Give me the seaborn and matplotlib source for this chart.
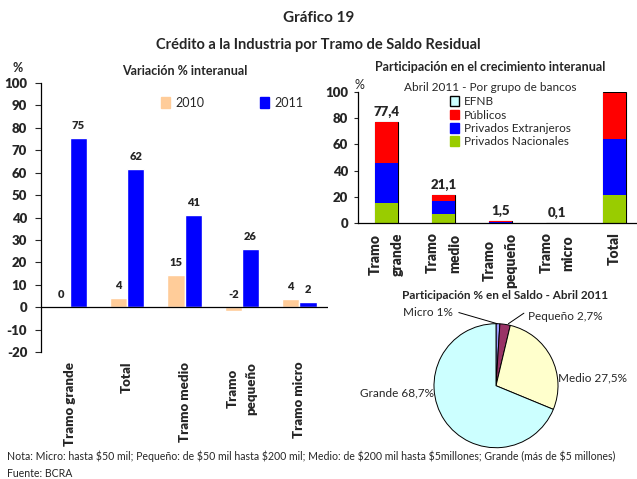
import numpy as np
import pandas as pd
import matplotlib
matplotlib.use('Agg')
import matplotlib.pyplot as plt
from matplotlib.patches import Patch
import seaborn as sns

# Variación % interanual
tramos = ['Tramo grande', 'Total', 'Tramo medio', 'Tramo\npequeño', 'Tramo micro']
var_2010 = [0.0, 4.2, 14.4, -1.5, 3.7]
var_2011 = [75.4, 61.6, 41.1, 26.0, 2.4]
etiq_2010 = ['0', '4', '15', '-2', '4']
etiq_2011 = ['75', '62', '41', '26', '2']

# Participación en el crecimiento interanual (por grupo de bancos)
tramos_part = ['Tramo\ngrande', 'Tramo\nmedio', 'Tramo\npequeño', 'Tramo\nmicro', 'Total']
priv_nacionales = [15.1, 6.9, 0.1, 0.0, 21.2]
priv_extranjeros = [30.4, 9.7, 0.7, 0.1, 43.0]
publicos = [31.9, 4.5, 0.7, 0.0, 35.3]
efnb = [0.0, 0.0, 0.0, 0.0, 0.5]
etiq_part = ['77,4', '21,1', '1,5', '0,1', '']

# Participación % en el saldo
pie_labels = ['Micro 1%', 'Pequeño 2,7%', 'Medio 27,5%', 'Grande 68,7%']
pie_values = [1.0, 2.7, 27.5, 68.7]

sns.set_style('white')
plt.rcParams['font.family'] = ['Lato', 'DejaVu Sans']
plt.rcParams['axes.unicode_minus'] = False

fig = plt.figure(figsize=(6.37, 4.79), dpi=100)

fig.text(0.5, 0.962, 'Gráfico 19', ha='center', va='center', fontsize=11, fontweight='bold')
fig.text(0.5, 0.906, 'Crédito a la Industria por Tramo de Saldo Residual', ha='center', va='center',
         fontsize=10.5, fontweight='bold')

# ---- left chart
ax1 = fig.add_axes([0.0644, 0.2651, 0.4505, 0.5616])
df = pd.DataFrame({
    'tramo': tramos * 2,
    'anio': ['2010'] * 5 + ['2011'] * 5,
    'valor': var_2010 + var_2011,
})
sns.barplot(data=df, x='tramo', y='valor', hue='anio', palette=['#FFCC99', '#0000FF'],
            width=0.6, gap=0, saturation=1, legend=False, ax=ax1)
ax1.set_ylim(-20, 100)
ax1.set_xlim(-0.5, 4.5)
ax1.set_yticks(range(-20, 101, 10))
ax1.axhline(0, color='black', lw=0.9)
for s in ['top', 'right', 'bottom']:
    ax1.spines[s].set_visible(False)
ax1.spines['left'].set_color('black')
ax1.spines['left'].set_linewidth(0.9)
ax1.tick_params(axis='y', direction='out', length=4, width=0.8, left=True, labelsize=9.5, pad=6)
ax1.tick_params(axis='x', length=0, labelsize=9.5, pad=7)
for lab in ax1.get_yticklabels():
    lab.set_fontweight('heavy')
ax1.set_xticks(range(5))
ax1.set_xticklabels(tramos, rotation=90, ha='center', va='top', fontweight='heavy', linespacing=1.6)
ax1.set_xlabel('')
ax1.set_ylabel('')
for cont, etqs in zip(ax1.containers, [etiq_2010, etiq_2011]):
    for bar, t in zip(cont, etqs):
        h = bar.get_height()
        ax1.text(bar.get_x() + bar.get_width() / 2, max(h, 0) + 5.5, t, ha='center', va='center',
                 fontsize=8, fontweight='heavy')
ax1.legend(handles=[Patch(color='#FFCC99', label='2010'), Patch(color='#0000FF', label='2011')],
           ncol=2, frameon=False, loc='center left', bbox_to_anchor=(0.38, 0.926),
           handlelength=0.7, handleheight=0.9, handletextpad=0.4, columnspacing=4.5, fontsize=9)
ax1.set_title('Variación % interanual', fontsize=9, fontweight='bold', pad=6)
fig.text(0.027, 0.858, '%', ha='center', va='center', fontsize=9, fontweight='bold')

# ---- right top chart (stacked via cumulative totals)
ax2 = fig.add_axes([0.562, 0.535, 0.438, 0.2723])
capas = [
    ('EFNB', efnb, '#CCFFFF'),
    ('Públicos', publicos, '#FF0000'),
    ('Privados Extranjeros', priv_extranjeros, '#0000FF'),
    ('Privados Nacionales', priv_nacionales, '#99CC00'),
]
acum = np.cumsum(np.array([priv_nacionales, priv_extranjeros, publicos, efnb]), axis=0)
acum = acum[::-1]
for (nombre, vals, color), tot in zip(capas, acum):
    sns.barplot(x=tramos_part, y=tot, color=color, saturation=1, width=0.4, ax=ax2,
                edgecolor='black' if nombre == 'EFNB' else color,
                linewidth=0.8 if nombre == 'EFNB' else 0)
ax2.set_ylim(0, 100)
ax2.set_xlim(-0.5, 4.4)
ax2.set_yticks(range(0, 101, 20))
for s in ['top', 'right']:
    ax2.spines[s].set_visible(False)
for s in ['left', 'bottom']:
    ax2.spines[s].set_color('black')
    ax2.spines[s].set_linewidth(0.9)
ax2.tick_params(axis='y', direction='out', length=3, width=0.8, left=True, labelsize=9.5, pad=4)
ax2.tick_params(axis='x', length=0, labelsize=10, pad=7)
for lab in ax2.get_yticklabels():
    lab.set_fontweight('heavy')
ax2.set_xticks(range(5))
ax2.set_xticklabels(tramos_part, rotation=90, ha='center', va='top', fontweight='heavy', linespacing=1.8)
tot_part = acum[0]
for i, t in enumerate(etiq_part):
    if t:
        ax2.text(i, tot_part[i] + 3, t, ha='center', va='bottom', fontsize=9.5, fontweight='heavy')
ax2.legend(handles=[Patch(facecolor=c, edgecolor='black' if n == 'EFNB' else c, label=n)
                    for n, v, c in capas],
           frameon=False, loc='upper left', bbox_to_anchor=(0.33, 0.97), fontsize=8.5,
           handlelength=0.75, handleheight=0.9, handletextpad=0.4, labelspacing=0.2,
           borderpad=0, borderaxespad=0)
fig.text(0.77, 0.86, 'Participación en el crecimiento interanual', ha='center', va='center',
         fontsize=9, fontweight='bold')
fig.text(0.77, 0.818, 'Abril 2011 - Por grupo de bancos', ha='center', va='center', fontsize=8.5)
fig.text(0.564, 0.823, '%', ha='center', va='center', fontsize=9)

# ---- pie
ax3 = fig.add_axes([0.6813, 0.0653, 0.1947, 0.2589])
ax3.pie(pie_values, colors=['#9999FF', '#993366', '#FFFFCC', '#CCFFFF'], startangle=90,
        counterclock=False, wedgeprops=dict(edgecolor='black', linewidth=0.7))
ax3.set_xlim(-1, 1)
ax3.set_ylim(-1, 1)
ax3.text(-0.7, 1.18, pie_labels[0], ha='right', va='center', fontsize=8.5)
ax3.plot([-0.6, 0.02], [1.18, 1.0], color='black', lw=0.7, clip_on=False)
ax3.text(0.52, 1.12, pie_labels[1], ha='left', va='center', fontsize=8.5)
ax3.plot([0.45, 0.2], [1.17, 1.0], color='black', lw=0.7, clip_on=False)
ax3.text(1.0, 0.12, pie_labels[2], ha='left', va='center', fontsize=8.5)
ax3.text(-1.0, -0.12, pie_labels[3], ha='right', va='center', fontsize=8.5)
fig.text(0.793, 0.384, 'Participación % en el Saldo - Abril 2011', ha='center', va='center',
         fontsize=8.5, fontweight='bold')

fig.text(0.011, 0.048, r'Nota: Micro: hasta \$50 mil; Pequeño: de \$50 mil hasta \$200 mil; Medio: de \$200 mil hasta '
         r'\$5millones; Grande (más de \$5 millones)', ha='left', va='center', fontsize=7.6)
fig.text(0.011, 0.011, 'Fuente: BCRA', ha='left', va='center', fontsize=7.6)

fig.savefig('out.png', dpi=100)
